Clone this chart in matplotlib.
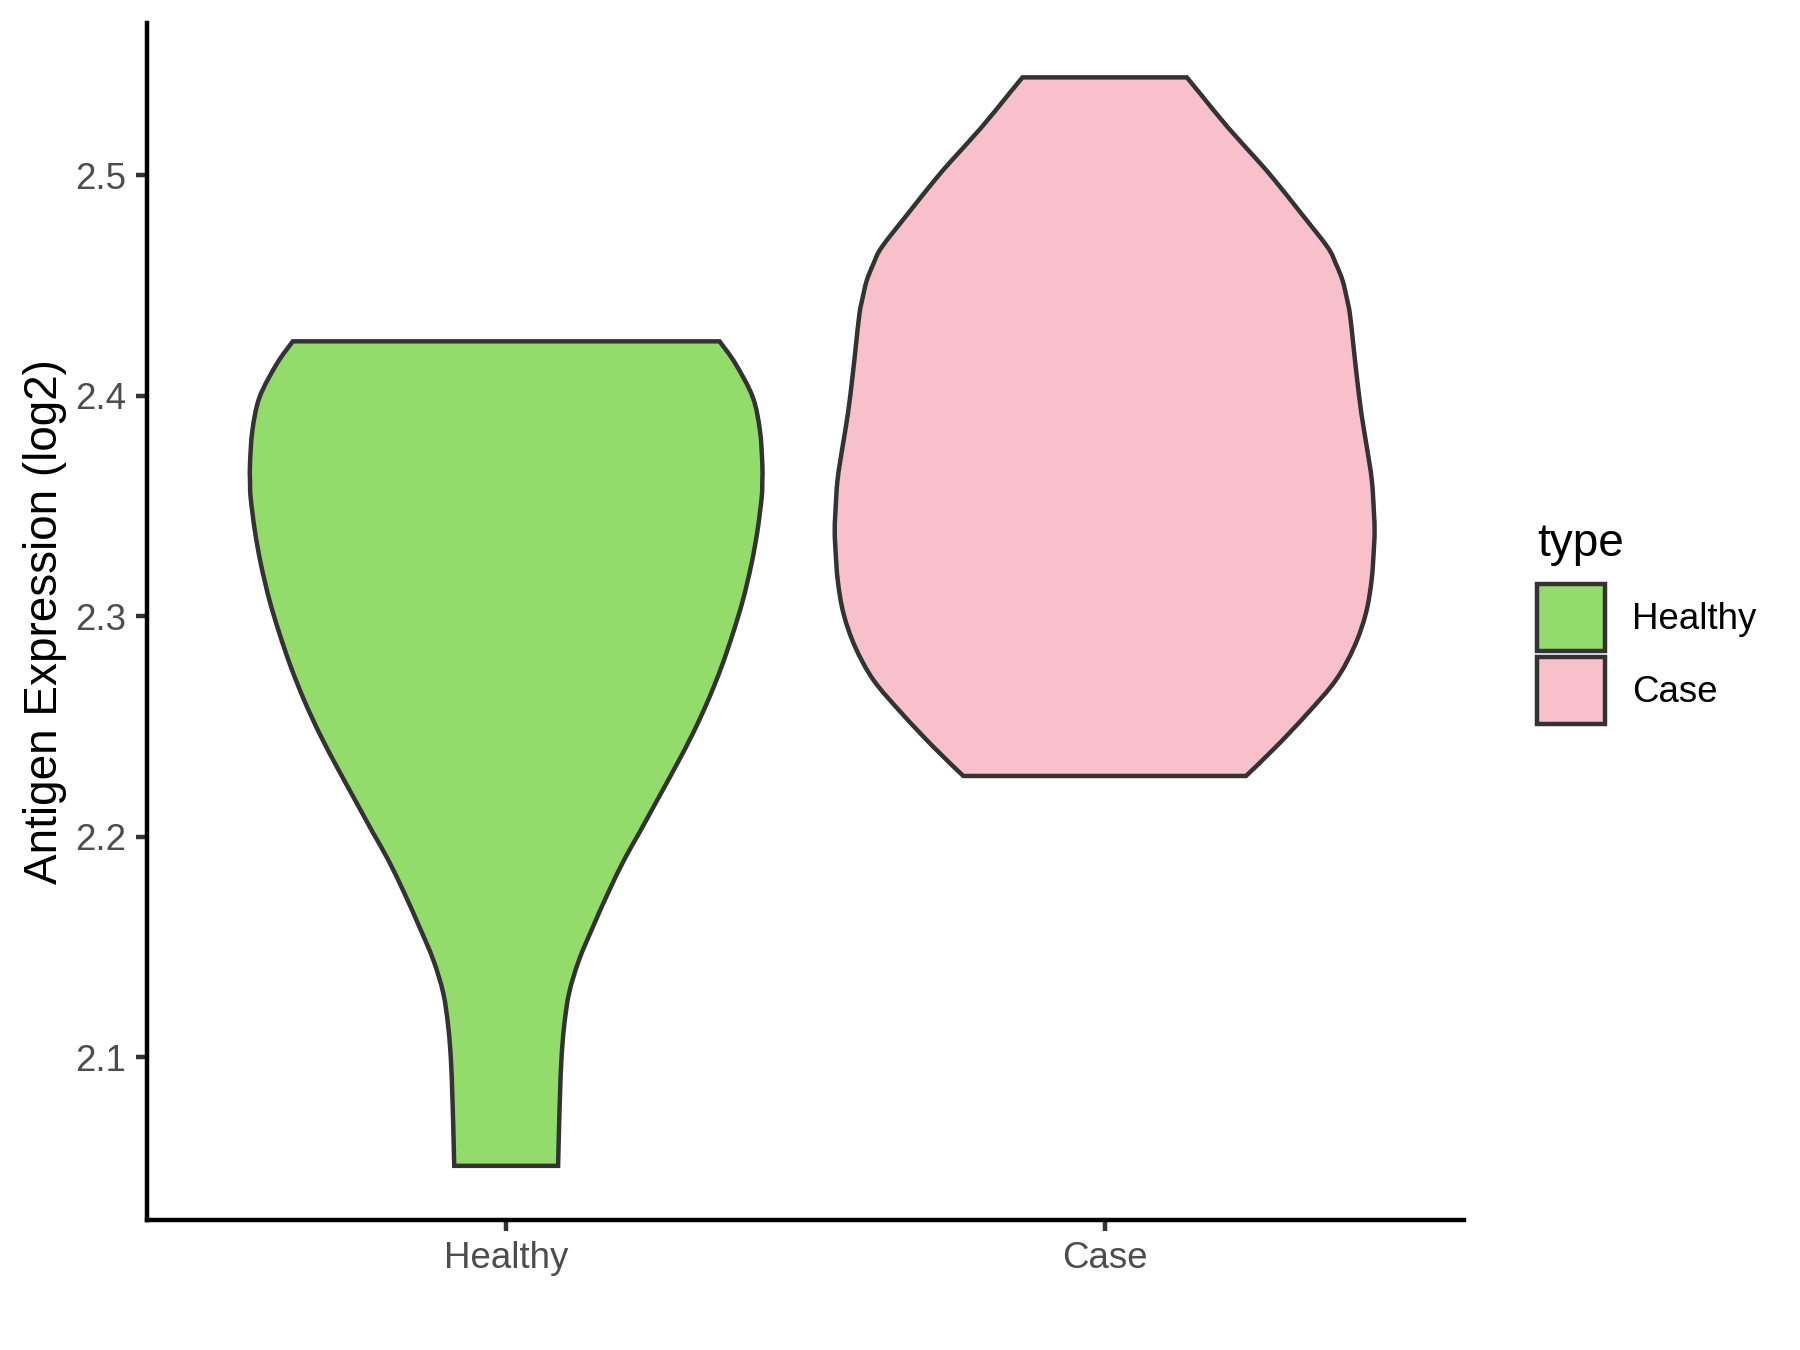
import numpy as np
import matplotlib
matplotlib.use("Agg")
import matplotlib.pyplot as plt
from matplotlib.patches import Patch, PathPatch
from matplotlib.path import Path

plt.rcParams['font.family'] = ['Liberation Sans', 'DejaVu Sans']

# ---- data ----
categories = ["Healthy", "Case"]
colors = ["#93DB6A", "#F7C0CB"]

# violin profile: expression level (y) and half-width of the violin at that level
healthy_y = [2.0507, 2.0686, 2.0837, 2.0988, 2.1139, 2.1290, 2.1441, 2.1592, 2.1743,
             2.1894, 2.2015, 2.2166, 2.2317, 2.2468, 2.2619, 2.2770, 2.2921, 2.3072,
             2.3238, 2.3389, 2.3540, 2.3616, 2.3691, 2.3842, 2.3993, 2.4145, 2.4246]
healthy_hw = [0.0868, 0.0884, 0.0901, 0.0923, 0.0968, 0.1051, 0.1218, 0.1452, 0.1700,
              0.1970, 0.2220, 0.2525, 0.2830, 0.3120, 0.3376, 0.3598, 0.3788, 0.3955,
              0.4100, 0.4200, 0.4270, 0.4280, 0.4280, 0.4240, 0.4120, 0.3830, 0.3565]

case_y = [2.2275, 2.2407, 2.2559, 2.2710, 2.2861, 2.3012, 2.3163, 2.3314, 2.3390,
          2.3465, 2.3616, 2.3767, 2.3918, 2.4084, 2.4220, 2.4371, 2.4446, 2.4522,
          2.4598, 2.4673, 2.4824, 2.4975, 2.5066, 2.5217, 2.5368, 2.5443]
case_hw = [0.2362, 0.2862, 0.3390, 0.3863, 0.4170, 0.4364, 0.4460, 0.4500, 0.4510,
           0.4500, 0.4464, 0.4380, 0.4290, 0.4214, 0.4159, 0.4097, 0.4042, 0.3975,
           0.3863, 0.3725, 0.3290, 0.2846, 0.2557, 0.2056, 0.1600, 0.1373]

yticks = [2.1, 2.2, 2.3, 2.4, 2.5]
ylabel = "Antigen Expression (log2)"
legend_title = "type"


def smooth_side(px, py):
    """Catmull-Rom curve through the points, returned as Bezier vertices/codes."""
    pts = np.column_stack([px, py])
    n = len(pts)
    verts, codes = [], []
    for i in range(n - 1):
        p0 = pts[max(i - 1, 0)]
        p1 = pts[i]
        p2 = pts[i + 1]
        p3 = pts[min(i + 2, n - 1)]
        c1 = p1 + (p2 - p0) / 6.0
        c2 = p2 - (p3 - p1) / 6.0
        verts += [tuple(c1), tuple(c2), tuple(p2)]
        codes += [Path.CURVE4] * 3
    return verts, codes


# ---- figure ----
fig = plt.figure(figsize=(6, 4.5), dpi=300)
ax = fig.add_axes([0.0817, 0.0961, 0.8132 - 0.0817, 0.983 - 0.0961])

profiles = [(healthy_y, healthy_hw), (case_y, case_hw)]
for i, ((yv, hw), col) in enumerate(zip(profiles, colors)):
    yv = np.asarray(yv)
    hw = np.asarray(hw)
    pos = i + 1
    left_x, right_x = pos - hw, pos + hw
    verts = [(left_x[0], yv[0])]
    codes = [Path.MOVETO]
    v, c = smooth_side(left_x, yv)               # up the left side
    verts += v; codes += c
    verts.append((right_x[-1], yv[-1]))          # flat top
    codes.append(Path.LINETO)
    v, c = smooth_side(right_x[::-1], yv[::-1])  # down the right side
    verts += v; codes += c
    verts.append((left_x[0], yv[0]))             # flat bottom
    codes.append(Path.CLOSEPOLY)
    patch = PathPatch(Path(verts, codes), facecolor=col, edgecolor="#333333",
                      linewidth=1.07, joinstyle="miter", zorder=2)
    ax.add_patch(patch)

lo = min(min(healthy_y), min(case_y))
hi = max(max(healthy_y), max(case_y))
pad = 0.05 * (hi - lo)
ax.set_ylim(lo - pad, hi + pad)
ax.set_xlim(0.4, 2.6)

ax.set_xticks([1, 2])
ax.set_xticklabels(categories)
ax.set_yticks(yticks)
ax.set_yticklabels([f"{t:.1f}" for t in yticks])

for s in ["top", "right"]:
    ax.spines[s].set_visible(False)
for s in ["left", "bottom"]:
    ax.spines[s].set_linewidth(1.07)
    ax.spines[s].set_color("black")

ax.tick_params(axis="both", length=2.75, width=1.07, color="#333333",
               labelsize=8.8, labelcolor="#4D4D4D", pad=2.2)
ax.set_ylabel(ylabel, fontsize=11, color="black", labelpad=2)

handles = [Patch(facecolor=c, edgecolor="#333333", linewidth=1.07) for c in colors]
leg = fig.legend(handles, categories, title=legend_title, loc="upper left",
                 bbox_to_anchor=(1537 / 1800, 1 - 522 / 1350), frameon=False,
                 fontsize=8.8, title_fontsize=11, handlelength=1.85,
                 handleheight=2.43, labelspacing=0.16, handletextpad=0.74,
                 borderpad=0, borderaxespad=0, alignment="left")
leg._legend_box.sep = 4.4  # gap between title and keys (points)

fig.savefig("out.png", dpi=300)
